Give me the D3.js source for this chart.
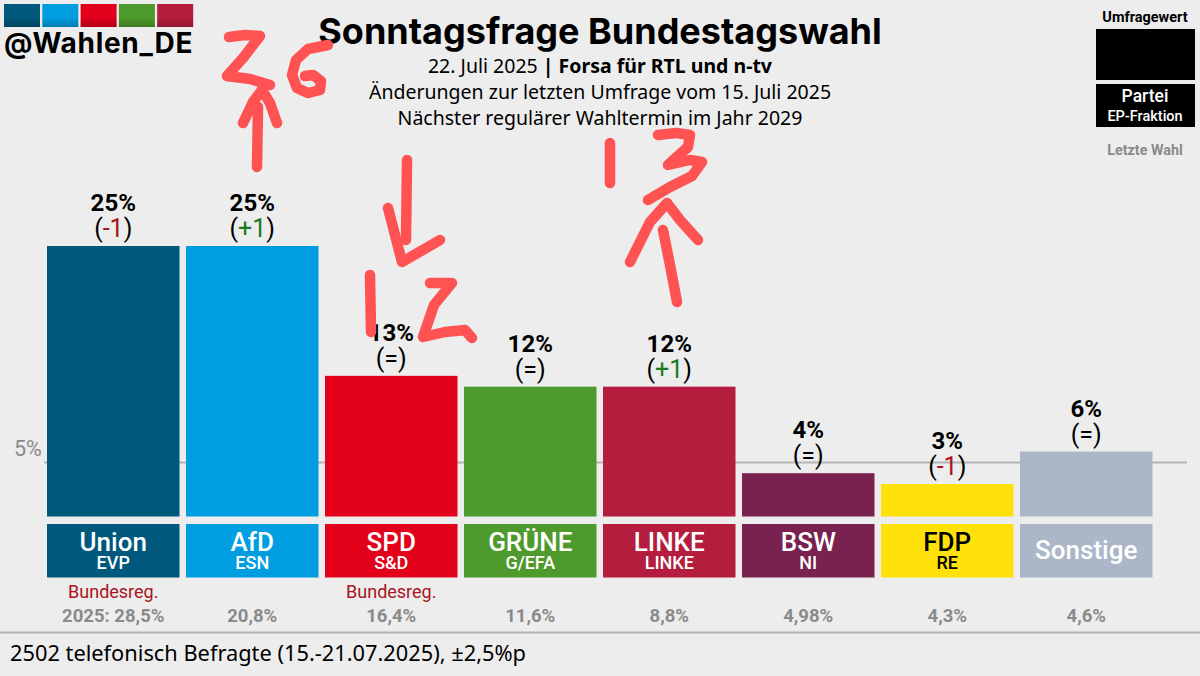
<!DOCTYPE html>
<html lang="de">
<head>
<meta charset="utf-8">
<title>Sonntagsfrage Bundestagswahl</title>
<script src="https://cdn.jsdelivr.net/npm/d3@7"></script>
<style>
  html, body { margin: 0; padding: 0; background: #ededed; }
  svg { display: block; }
  text { font-family: Roboto, sans-serif; }
  .head { font-family: "Noto Sans", sans-serif; }
</style>
</head>
<body>
<div id="chart"></div>
<script>
const parties = ['Union', 'AfD', 'SPD', 'GRÜNE', 'LINKE', 'BSW', 'FDP', 'Sonstige'];
const groups = ['EVP', 'ESN', 'S&D', 'G/EFA', 'LINKE', 'NI', 'RE', ''];
const values = [25, 25, 13, 12, 12, 4, 3, 6];
const changes = ['-1', '+1', '=', '=', '+1', '=', '-1', '='];
const lastVote = ['2025: 28,5%', '20,8%', '16,4%', '11,6%', '8,8%', '4,98%', '4,3%', '4,6%'];
const government = ['Union', 'SPD'];
const colors = ['#00587c', '#009ee0', '#e3001b', '#4f9a2c', '#b41d3d', '#79214f', '#ffe10a', '#abb6c8'];
const labelColors = ['#fff', '#fff', '#fff', '#fff', '#fff', '#fff', '#000', '#fff'];
const threshold = 5;

// hand drawn marker scribbles on top of the graphic
const scribbles = [
  [[229, 37], [245, 35], [260, 36], [243, 58], [227, 76], [250, 79], [270, 85]],
  [[257, 167], [258, 107]],
  [[243, 123], [253, 102], [262, 90], [270, 103], [277, 123]],
  [[328, 45], [308, 49], [296, 60], [292, 75], [297, 88], [308, 93], [320, 90], [321, 81], [313, 75], [305, 76]],
  [[407, 160], [406, 240]],
  [[388, 208], [395, 235], [402, 262], [440, 240]],
  [[370, 275], [371, 332]],
  [[430, 283], [452, 283], [434, 305], [423, 337], [445, 332], [465, 330], [472, 338]],
  [[610, 143], [610, 183]],
  [[658, 135], [676, 133], [690, 135], [688, 147], [668, 165], [690, 160], [702, 162], [692, 176], [670, 187], [648, 200]],
  [[630, 262], [650, 222], [667, 203], [680, 220], [698, 240]],
  [[663, 230], [670, 265], [677, 302]],
];

const width = 1200;
const height = 676;
const margin = { left: 47, baseline: 516.5 };
const STEP = 139;
const BAR = 132.5;

const svg = d3.select('#chart').append('svg').attr('width', width).attr('height', height);

const x = d3
  .scaleBand()
  .domain(parties)
  .range([margin.left, margin.left + STEP * parties.length - (STEP - BAR)])
  .paddingInner((STEP - BAR) / STEP);
const y = d3.scaleLinear().domain([0, 25]).range([margin.baseline, 246]);

// logo
const shade = svg.append('defs').append('linearGradient').attr('id', 'shade').attr('x2', 0).attr('y2', 1);
shade.append('stop').attr('offset', '0.6').attr('stop-color', '#000').attr('stop-opacity', 0);
shade.append('stop').attr('offset', '1').attr('stop-color', '#000').attr('stop-opacity', 0.22);

const logo = svg.append('g');
colors.slice(0, 5).forEach((c, i) => {
  logo.append('rect').attr('x', 4 + i * 38.3).attr('y', 4).attr('width', 36).attr('height', 23).attr('fill', c);
  logo.append('rect').attr('x', 4 + i * 38.3).attr('y', 4).attr('width', 36).attr('height', 23).attr('fill', 'url(#shade)');
});
logo
  .append('text')
  .attr('x', 4)
  .attr('y', 53)
  .style('font-family', 'Inter, sans-serif')
  .style('font-weight', 700)
  .style('font-size', '28px')
  .style('letter-spacing', '0.7px')
  .text('@Wahlen_DE');

// title
svg
  .append('text')
  .attr('x', 600)
  .attr('y', 44)
  .attr('text-anchor', 'middle')
  .style('font-family', 'Inter, sans-serif')
  .style('font-weight', 700)
  .style('font-size', '36px')
  .text('Sonntagsfrage Bundestagswahl');
const sub = svg
  .append('text')
  .attr('class', 'head')
  .attr('x', 600)
  .attr('y', 73)
  .attr('text-anchor', 'middle')
  .style('font-size', '19.5px');
sub.append('tspan').text('22. Juli 2025 ');
sub.append('tspan').style('font-weight', 700).text('| Forsa für RTL und n-tv');
['Änderungen zur letzten Umfrage vom 15. Juli 2025', 'Nächster regulärer Wahltermin im Jahr 2029'].forEach((t, i) => {
  svg
    .append('text')
    .attr('class', 'head')
    .attr('x', 600)
    .attr('y', 99 + i * 26)
    .attr('text-anchor', 'middle')
    .style('font-size', '19.5px')
    .text(t);
});

// key top right
const key = svg.append('g').attr('text-anchor', 'middle');
key.append('text').attr('x', 1145).attr('y', 22).style('font-size', '14.5px').style('font-weight', 700).text('Umfragewert');
key.append('rect').attr('x', 1096).attr('y', 29).attr('width', 99).attr('height', 51).attr('fill', '#000');
key.append('rect').attr('x', 1096).attr('y', 84).attr('width', 99).attr('height', 43).attr('fill', '#000');
key.append('text').attr('x', 1145).attr('y', 102).attr('fill', '#fff').style('font-size', '17.5px').style('font-weight', 500).text('Partei');
key.append('text').attr('x', 1145).attr('y', 121).attr('fill', '#fff').style('font-size', '14.5px').style('font-weight', 500).text('EP-Fraktion');
key.append('text').attr('x', 1145).attr('y', 155).attr('fill', '#8a8a8a').style('font-size', '14.3px').style('font-weight', 700).text('Letzte Wahl');

// 5% line
svg
  .append('line')
  .attr('x1', 44)
  .attr('x2', 1187)
  .attr('y1', y(threshold))
  .attr('y2', y(threshold))
  .attr('stroke', '#b4b4b4')
  .attr('stroke-width', 2);
svg
  .append('text')
  .attr('x', 14)
  .attr('y', y(threshold) - 6)
  .attr('fill', '#8a8a8a')
  .style('font-size', '21.5px')
  .text(threshold + '%');

const row = svg
  .selectAll('g.party')
  .data(parties)
  .join('g')
  .attr('class', 'party');

row
  .append('rect')
  .attr('x', d => x(d))
  .attr('width', x.bandwidth())
  .attr('y', (d, i) => y(values[i]))
  .attr('height', (d, i) => y(0) - y(values[i]))
  .attr('fill', (d, i) => colors[i]);

row
  .append('text')
  .attr('x', d => x(d) + x.bandwidth() / 2)
  .attr('y', (d, i) => y(values[i]) - 35)
  .attr('text-anchor', 'middle')
  .style('font-size', '24px')
  .style('font-weight', 700)
  .text((d, i) => values[i] + '%');

const change = row
  .append('text')
  .attr('x', d => x(d) + x.bandwidth() / 2)
  .attr('y', (d, i) => y(values[i]) - 9)
  .attr('text-anchor', 'middle')
  .style('font-size', '25px');
change.append('tspan').text('(');
change
  .append('tspan')
  .attr('fill', (d, i) => (changes[i][0] === '-' ? '#a8151b' : changes[i][0] === '+' ? '#1a7a1a' : '#000'))
  .text((d, i) => changes[i]);
change.append('tspan').text(')');

// party boxes below the bars
row
  .append('rect')
  .attr('x', d => x(d))
  .attr('width', x.bandwidth())
  .attr('y', 524)
  .attr('height', 53.5)
  .attr('fill', (d, i) => colors[i]);
row
  .append('text')
  .attr('x', d => x(d) + x.bandwidth() / 2)
  .attr('y', (d, i) => (groups[i] ? 551 : 559))
  .attr('text-anchor', 'middle')
  .attr('fill', (d, i) => labelColors[i])
  .style('font-size', '26px')
  .style('font-weight', 500)
  .text(d => d);
row
  .append('text')
  .attr('x', d => x(d) + x.bandwidth() / 2)
  .attr('y', 569)
  .attr('text-anchor', 'middle')
  .attr('fill', (d, i) => labelColors[i])
  .style('font-size', '18px')
  .style('font-weight', 500)
  .text((d, i) => groups[i]);

row
  .filter(d => government.includes(d))
  .append('text')
  .attr('x', d => x(d) + x.bandwidth() / 2)
  .attr('y', 598)
  .attr('text-anchor', 'middle')
  .attr('fill', '#a8151b')
  .style('font-size', '18px')
  .text('Bundesreg.');
row
  .append('text')
  .attr('x', d => x(d) + x.bandwidth() / 2)
  .attr('y', 622)
  .attr('text-anchor', 'middle')
  .attr('fill', '#8a8a8a')
  .style('font-size', '18.5px')
  .style('font-weight', 700)
  .text((d, i) => lastVote[i]);

// footer
svg
  .append('line')
  .attr('x1', 0)
  .attr('x2', width)
  .attr('y1', 632.5)
  .attr('y2', 632.5)
  .attr('stroke', '#b4b4b4')
  .attr('stroke-width', 2);
svg
  .append('text')
  .attr('class', 'head')
  .attr('x', 10)
  .attr('y', 661)
  .style('font-size', '21.8px')
  .text('2502 telefonisch Befragte (15.-21.07.2025), ±2,5%p');

const scribble = d3.line();
svg
  .append('g')
  .selectAll('path')
  .data(scribbles)
  .join('path')
  .attr('d', d => scribble(d))
  .attr('fill', 'none')
  .attr('stroke', '#ff5252')
  .attr('stroke-width', 10.5)
  .attr('stroke-linecap', 'round')
  .attr('stroke-linejoin', 'round');
</script>
</body>
</html>
